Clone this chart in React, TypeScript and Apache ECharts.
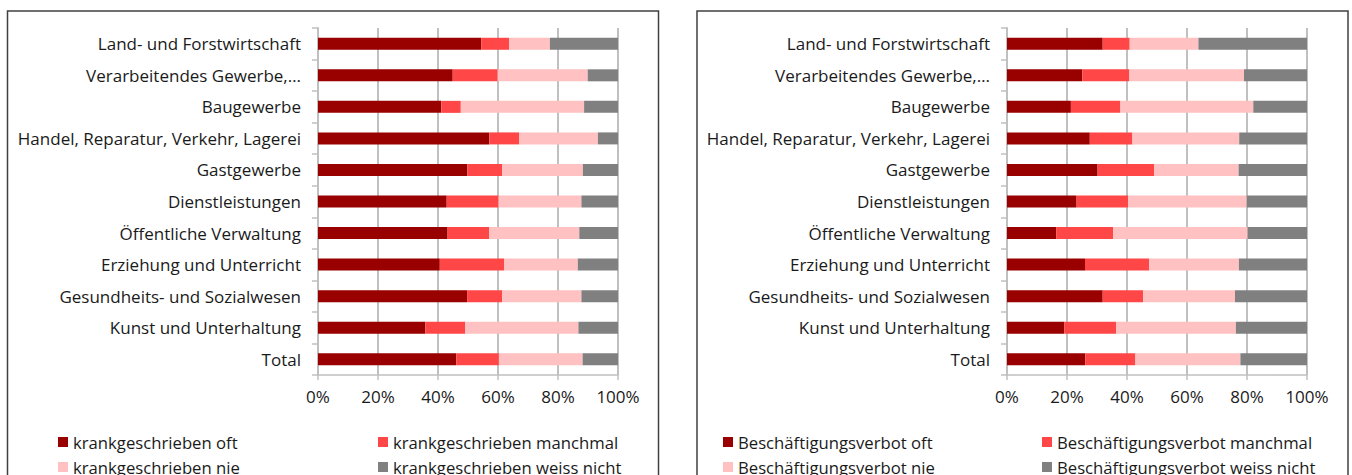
import React, { useEffect, useRef } from "react";
import * as echarts from "echarts";

const categories = [
  "Land- und Forstwirtschaft",
  "Verarbeitendes Gewerbe,…",
  "Baugewerbe",
  "Handel, Reparatur, Verkehr, Lagerei",
  "Gastgewerbe",
  "Dienstleistungen",
  "Öffentliche Verwaltung",
  "Erziehung und Unterricht",
  "Gesundheits- und Sozialwesen",
  "Kunst und Unterhaltung",
  "Total",
];

const xTicks = [0, 20, 40, 60, 80, 100];

const krankNames = [
  "krankgeschrieben oft",
  "krankgeschrieben manchmal",
  "krankgeschrieben nie",
  "krankgeschrieben weiss nicht",
];
const krankOft = [54.4, 44.9, 41.1, 57.1, 49.8, 42.9, 43.2, 40.6, 49.7, 35.8, 46.1];
const krankManchmal = [9.3, 15.0, 6.5, 9.9, 11.6, 17.3, 13.8, 21.4, 11.7, 13.3, 14.2];
const krankNie = [13.6, 30.0, 41.1, 26.3, 26.9, 27.6, 30.1, 24.6, 26.4, 37.7, 27.9];
const krankWeissNicht = [22.7, 10.1, 11.3, 6.7, 11.7, 12.2, 12.9, 13.4, 12.2, 13.2, 11.8];

const verbotNames = [
  "Beschäftigungsverbot oft",
  "Beschäftigungsverbot manchmal",
  "Beschäftigungsverbot nie",
  "Beschäftigungsverbot weiss nicht",
];
const verbotOft = [31.9, 25.1, 21.3, 27.6, 30.2, 23.2, 16.4, 26.0, 31.9, 19.1, 26.1];
const verbotManchmal = [9.0, 15.7, 16.5, 14.2, 18.9, 17.2, 19.0, 21.4, 13.5, 17.3, 16.7];
const verbotNie = [22.9, 38.2, 44.3, 35.6, 28.1, 39.5, 44.8, 29.9, 30.6, 39.9, 35.0];
const verbotWeissNicht = [36.2, 21.0, 17.9, 22.6, 22.8, 20.1, 19.8, 22.7, 24.0, 23.7, 22.2];

const colors = ["#990000", "#ff4747", "#ffc1c1", "#808080"];
const FONT = "Open Sans";
const TEXT = "#1a1a1a";
const GRID = "#c0c0c0";

export default function App() {
  const ref = useRef<HTMLDivElement>(null);
  useEffect(() => {
    document.body.style.margin = "0";
    const chart = echarts.init(ref.current!, undefined, { renderer: "svg" });

    const panels = [
      { left: 318, names: krankNames, data: [krankOft, krankManchmal, krankNie, krankWeissNicht], legendX: [58, 378] },
      { left: 1007, names: verbotNames, data: [verbotOft, verbotManchmal, verbotNie, verbotWeissNicht], legendX: [723, 1042] },
    ];

    const grid: any[] = [];
    const xAxis: any[] = [];
    const yAxis: any[] = [];
    const series: any[] = [];
    const legend: any[] = [];

    panels.forEach((p, pi) => {
      grid.push({ left: p.left, top: 28, width: 300, height: 347, containLabel: false });
      xAxis.push({
        type: "value",
        gridIndex: pi,
        min: xTicks[0],
        max: xTicks[xTicks.length - 1],
        interval: xTicks[1] - xTicks[0],
        axisLine: { show: true, lineStyle: { color: GRID, width: 1.5 } },
        axisTick: { show: true, length: 5, lineStyle: { color: GRID, width: 1.5 } },
        splitLine: { show: true, lineStyle: { color: GRID, width: 2 } },
        axisLabel: { formatter: "{value}%", color: TEXT, fontFamily: FONT, fontSize: 17, margin: 13 },
      });
      yAxis.push({
        type: "category",
        gridIndex: pi,
        inverse: true,
        data: categories,
        axisLine: { show: true, lineStyle: { color: GRID, width: 2 } },
        axisTick: { show: true, length: 6, lineStyle: { color: GRID, width: 1.5 } },
        axisLabel: { color: TEXT, fontFamily: FONT, fontSize: 17, margin: 17 },
      });
      p.names.forEach((n, si) => {
        series.push({
          name: n,
          type: "bar",
          stack: "s" + pi,
          xAxisIndex: pi,
          yAxisIndex: pi,
          barWidth: 12,
          itemStyle: { color: colors[si] },
          data: p.data[si],
        });
        legend.push({
          data: [n],
          left: p.legendX[si % 2],
          top: si < 2 ? 432 : 457,
          icon: "rect",
          itemWidth: 10,
          itemHeight: 10,
          padding: 0,
          selectedMode: false,
          textStyle: { color: TEXT, fontFamily: FONT, fontSize: 16.7, lineHeight: 20 },
        });
      });
    });

    chart.setOption({
      animation: false,
      backgroundColor: "#ffffff",
      grid,
      xAxis,
      yAxis,
      series,
      legend,
      graphic: [
        { type: "rect", shape: { x: 7.5, y: 11, width: 651, height: 500 }, style: { fill: "none", stroke: "#404040", lineWidth: 1.5 } },
        { type: "rect", shape: { x: 697, y: 11, width: 651, height: 500 }, style: { fill: "none", stroke: "#404040", lineWidth: 1.5 } },
      ],
    });
    return () => chart.dispose();
  }, []);
  return <div ref={ref} style={{ width: 1352, height: 475 }} />;
}
